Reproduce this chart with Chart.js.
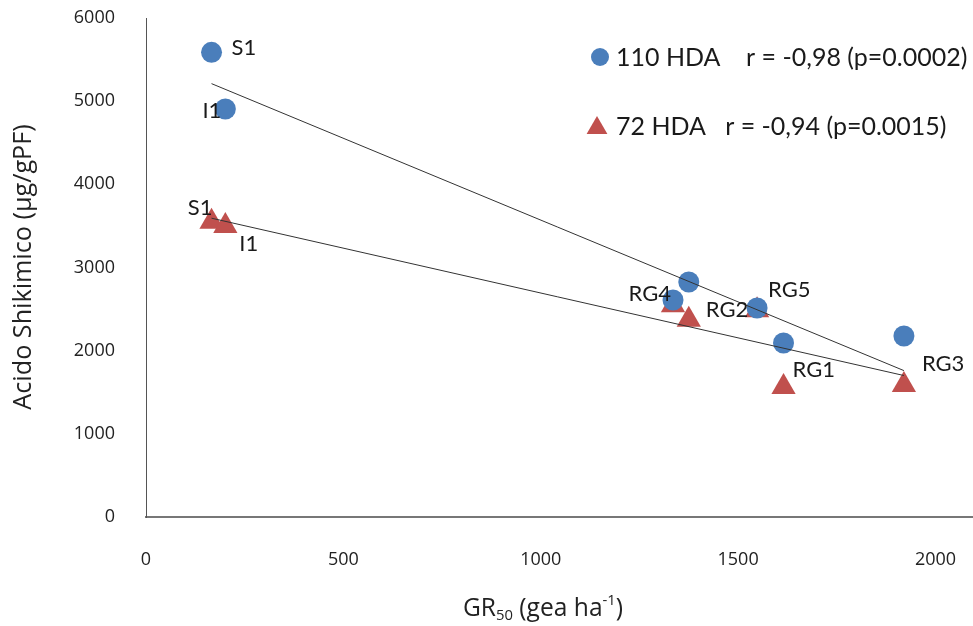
<!DOCTYPE html>
<html>
<head>
<meta charset="utf-8">
<script src="https://cdn.jsdelivr.net/npm/chart.js@4"></script>
<style>
  html, body { margin: 0; padding: 0; background: #fff; }
  #wrap { width: 973px; height: 626px; }
</style>
</head>
<body>
<div id="wrap"><canvas id="shikimicChart" width="973" height="626"></canvas></div>
<script>
// populations and their GR50 (gea ha-1)
const populations = ['S1', 'I1', 'RG4', 'RG2', 'RG5', 'RG1', 'RG3'];
const gr50 = [166, 201, 1335, 1375, 1548, 1615, 1920];
// shikimic acid (ug/gPF)
const shikimic110 = [5587, 4906, 2609, 2826, 2513, 2092, 2176];
const shikimic72 = [3551, 3499, 2545, 2372, 2485, 1563, 1587];
const seriesNames = ['110 HDA    r = -0,98 (p=0.0002)', '72 HDA   r = -0,94 (p=0.0015)'];
const xTicks = [0, 500, 1000, 1500, 2000];
const yTicks = [0, 1000, 2000, 3000, 4000, 5000, 6000];

const blue = '#4a7ebb';
const red = '#c0504d';
const labelFont = "22px Lato, 'Open Sans', sans-serif";
const axisFont = "'Open Sans', sans-serif";

// where each point label sits relative to its marker
const labelPlacement = [
    { S1: [20, -4, 'left'], I1: [-4, 2, 'right'] },
    { S1: [1, -14, 'right'], I1: [14, 18, 'left'], RG4: [-2, -11, 'right'], RG2: [17, -10, 'left'],
      RG5: [11, -20, 'left'], RG1: [9, -17, 'left'], RG3: [18, -21, 'left'] }
];

function fitLine(xs, ys) {
    const n = xs.length;
    const mx = xs.reduce((a, b) => a + b, 0) / n;
    const my = ys.reduce((a, b) => a + b, 0) / n;
    let sxy = 0, sxx = 0;
    for (let i = 0; i < n; i++) {
        sxy += (xs[i] - mx) * (ys[i] - my);
        sxx += (xs[i] - mx) * (xs[i] - mx);
    }
    const slope = sxy / sxx;
    const x0 = Math.min(...xs), x1 = Math.max(...xs);
    return [{ x: x0, y: my + slope * (x0 - mx) }, { x: x1, y: my + slope * (x1 - mx) }];
}

function toPoints(ys) {
    return gr50.map((x, i) => ({ x: x, y: ys[i] }));
}

function drawMarker(ctx, style, color, x, y, r) {
    ctx.save();
    ctx.fillStyle = color;
    ctx.beginPath();
    if (style === 'circle') {
        ctx.arc(x, y, r, 0, Math.PI * 2);
    } else {
        ctx.moveTo(x, y - r);
        ctx.lineTo(x + r * 0.866, y + r * 0.5);
        ctx.lineTo(x - r * 0.866, y + r * 0.5);
        ctx.closePath();
    }
    ctx.fill();
    ctx.restore();
}

// font size that makes the text span the wanted width
function fitSize(ctx, text, family, width) {
    ctx.font = "20px " + family;
    return 20 * width / ctx.measureText(text).width;
}

const decorations = {
    id: 'decorations',
    afterDatasetsDraw(chart) {
        const ctx = chart.ctx;
        ctx.save();
        ctx.font = labelFont;
        ctx.fillStyle = '#1a1a1a';
        ctx.textBaseline = 'middle';
        [2, 3].forEach((dsIndex, s) => {
            const meta = chart.getDatasetMeta(dsIndex);
            meta.data.forEach((pt, i) => {
                const place = labelPlacement[s][populations[i]];
                if (!place) return;
                ctx.textAlign = place[2];
                ctx.fillText(populations[i], pt.x + place[0], pt.y + place[1]);
            });
        });

        // legend
        ctx.textAlign = 'left';
        ctx.font = "25px Lato, 'Open Sans', sans-serif";
        drawMarker(ctx, 'circle', blue, 600, 57, 9);
        ctx.fillStyle = '#1a1a1a';
        ctx.fillText(seriesNames[0], 616, 58);
        drawMarker(ctx, 'triangle', red, 597, 128, 12);
        ctx.fillStyle = '#1a1a1a';
        ctx.fillText(seriesNames[1], 616, 127);

        // axis titles
        ctx.fillStyle = '#222';
        const yTitle = 'Acido Shikimico (µg/gPF)';
        ctx.font = fitSize(ctx, yTitle, axisFont, 285).toFixed(1) + "px " + axisFont;
        ctx.save();
        ctx.translate(24, 267);
        ctx.rotate(-Math.PI / 2);
        ctx.textAlign = 'center';
        ctx.fillText(yTitle, 0, 0);
        ctx.restore();

        const bigSize = fitSize(ctx, 'GR (gea ha)', axisFont, 130);
        const big = bigSize.toFixed(1) + "px " + axisFont;
        const small = (bigSize * 0.6).toFixed(1) + "px " + axisFont;
        const parts = [['GR', big, 0], ['50', small, 7], [' (gea ha', big, 0], ['-1', small, -8], [')', big, 0]];
        let total = 0;
        parts.forEach(p => { ctx.font = p[1]; total += ctx.measureText(p[0]).width; });
        let x = 543 - total / 2;
        ctx.textAlign = 'left';
        parts.forEach(p => {
            ctx.font = p[1];
            ctx.fillText(p[0], x, 609 + p[2]);
            x += ctx.measureText(p[0]).width;
        });
        ctx.restore();
    }
};

document.addEventListener("DOMContentLoaded", function() {
    const ctx = document.getElementById('shikimicChart');
    new Chart(ctx, {
        type: 'scatter',
        data: {
            datasets: [
                {
                    type: 'line',
                    data: fitLine(gr50, shikimic110),
                    borderColor: '#333',
                    borderWidth: 1,
                    pointRadius: 0,
                    showLine: true,
                    fill: false,
                    order: 0
                },
                {
                    type: 'line',
                    data: fitLine(gr50, shikimic72),
                    borderColor: '#333',
                    borderWidth: 1,
                    pointRadius: 0,
                    showLine: true,
                    fill: false,
                    order: 0
                },
                {
                    label: seriesNames[0],
                    data: toPoints(shikimic110),
                    pointStyle: 'circle',
                    pointRadius: 10.5,
                    backgroundColor: blue,
                    borderWidth: 0,
                    order: 1
                },
                {
                    label: seriesNames[1],
                    data: toPoints(shikimic72),
                    pointStyle: 'triangle',
                    pointRadius: 14,
                    backgroundColor: red,
                    borderWidth: 0,
                    order: 1
                }
            ]
        },
        options: {
            responsive: false,
            animation: false,
            layout: { autoPadding: false, padding: { top: 18, left: 0, right: 0, bottom: 0 } },
            scales: {
                x: {
                    type: 'linear',
                    min: 0,
                    max: 2095,
                    afterFit: s => {
                        s.height = 109;
                        s.paddingLeft = 0;
                        s.paddingRight = 0;
                    },
                    afterBuildTicks: s => { s.ticks = xTicks.map(v => ({ value: v })); },
                    grid: { display: false, drawTicks: false },
                    border: { color: '#777', width: 2 },
                    ticks: {
                        padding: 32,
                        color: '#222',
                        maxRotation: 0,
                        callback: v => String(v),
                        font: { family: axisFont, size: 18 }
                    }
                },
                y: {
                    min: 0,
                    max: 6000,
                    afterFit: s => {
                        s.width = 146;
                        s.paddingTop = 0;
                        s.paddingBottom = 0;
                    },
                    afterBuildTicks: s => { s.ticks = yTicks.map(v => ({ value: v })); },
                    grid: { display: false, drawTicks: false },
                    border: { color: '#555', width: 1 },
                    ticks: {
                        padding: 31,
                        color: '#222',
                        callback: v => String(v),
                        font: { family: axisFont, size: 18 }
                    }
                }
            },
            plugins: {
                legend: { display: false },
                tooltip: { enabled: false }
            }
        },
        plugins: [decorations]
    });
});
</script>
</body>
</html>
